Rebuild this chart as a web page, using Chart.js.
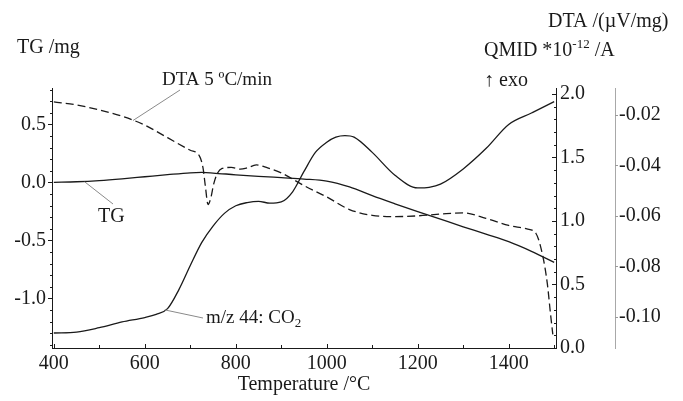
<!DOCTYPE html>
<html><head><meta charset="utf-8">
<script src="https://cdn.jsdelivr.net/npm/chart.js@4/dist/chart.umd.min.js"></script>
<style>html,body{margin:0;padding:0;background:#fff}</style>
</head><body>
<canvas id="c" width="683" height="401"></canvas>
<script>
// ---- data ----
const tgTemps  = [400,450,500,550,600,650,700,725,750,800,850,900,950,1000,1050,1100,1150,1200,1250,1300,1350,1400,1450,1500];
const tgValues = [0.000,0.005,0.015,0.030,0.048,0.066,0.082,0.085,0.080,0.065,0.052,0.040,0.028,0.010,-0.040,-0.115,-0.185,-0.253,-0.318,-0.383,-0.447,-0.512,-0.595,-0.690];

const co2Temps  = [400,450,500,550,600,625,650,675,700,725,750,775,800,825,850,875,900,925,950,975,1000,1020,1040,1060,1100,1150,1200,1225,1250,1300,1350,1400,1450,1500];
const co2Values = [0.118,0.125,0.160,0.205,0.240,0.265,0.310,0.460,0.650,0.830,0.960,1.060,1.120,1.145,1.155,1.140,1.150,1.230,1.390,1.540,1.620,1.660,1.672,1.660,1.540,1.360,1.260,1.265,1.290,1.410,1.570,1.760,1.850,1.940];

const dtaTemps  = [400,450,500,550,600,650,700,720,728,733,739,745,752,760,770,790,810,825,845,870,900,950,1000,1050,1100,1150,1200,1250,1300,1350,1400,1440,1460,1475,1485,1492,1497];
const dtaValues = [-0.0148,-0.0160,-0.0180,-0.0205,-0.0240,-0.0290,-0.0340,-0.0362,-0.0410,-0.0480,-0.0555,-0.0530,-0.0470,-0.0430,-0.0412,-0.0408,-0.0415,-0.0410,-0.0398,-0.0410,-0.0430,-0.0480,-0.0525,-0.0575,-0.0598,-0.0603,-0.0600,-0.0593,-0.0588,-0.0610,-0.0638,-0.0652,-0.0670,-0.0760,-0.0870,-0.0990,-0.1070];

const xTickLabels   = [400,600,800,1000,1200,1400];
const tgTickLabels  = [-1.0,-0.5,0.0,0.5];
const qmidTickLabels = [0.0,0.5,1.0,1.5,2.0];
const dtaTickLabels = [-0.10,-0.08,-0.06,-0.04,-0.02];

// ---- chart ----
const FONT = "'Liberation Serif', 'Times New Roman', serif";
const INK = '#1a1a1a';
const pts = (xs, ys) => xs.map((x, i) => ({x, y: ys[i]}));

const annotate = {
  id: 'annotate',
  afterDraw(chart) {
    const ctx = chart.ctx;
    const sx = chart.scales.x, sl = chart.scales.yTG, sq = chart.scales.yQMID, sd = chart.scales.yDTA;
    ctx.save();
    // tick marks
    const tick = (x1, y1, x2, y2, col) => { ctx.strokeStyle = col; ctx.lineWidth = 1; ctx.beginPath(); ctx.moveTo(x1, y1); ctx.lineTo(x2, y2); ctx.stroke(); };
    for (let v = 400; v <= 1500; v += 100) {
      const px = Math.round(sx.getPixelForValue(v)) + 0.5;
      tick(px, sx.top, px, sx.top - (v % 200 === 0 ? 4 : 3), INK);
    }
    for (let k = -14; k <= 8; k++) {
      const py = Math.round(sl.getPixelForValue(k / 10)) + 0.5;
      tick(sl.right, py, sl.right - (k % 5 === 0 ? 4 : 2), py, INK);
    }
    for (let k = 0; k <= 20; k++) {
      const py = Math.round(sq.getPixelForValue(k / 10)) + 0.5;
      tick(sq.left, py, sq.left - (k % 5 === 0 ? 4 : 2), py, INK);
    }
    for (let k = -11; k <= -1; k++) {
      const py = Math.round(sd.getPixelForValue(k / 100)) + 0.5;
      if (k % 2 === 0) tick(sd.left, py, sd.left + 3, py, '#9a9a9a');
    }
    // leader lines (anchored on curves via scales)
    const lead = (x1, y1, x2, y2) => { ctx.strokeStyle = '#8a8a8a'; ctx.lineWidth = 1; ctx.beginPath(); ctx.moveTo(x1, y1); ctx.lineTo(x2, y2); ctx.stroke(); };
    lead(180, 90, sx.getPixelForValue(574), sd.getPixelForValue(-0.0222));
    lead(113, 204, sx.getPixelForValue(468), sl.getPixelForValue(0.004));
    lead(203, 318, sx.getPixelForValue(644), sq.getPixelForValue(0.30));
    // texts
    ctx.fillStyle = INK;
    ctx.textBaseline = 'middle';
    ctx.textAlign = 'left';
    const f = (s) => `${s}px ${FONT}`;
    ctx.font = f(20);
    ctx.fillText('DTA /(\u00B5V/mg)', 548, 22);
    ctx.fillText('TG /mg', 17, 48);
    ctx.fillText('TG', 98, 217);
    // QMID with superscript
    let x = 484;
    ctx.fillText('QMID *10', x, 51); x += ctx.measureText('QMID *10').width;
    ctx.font = f(13); ctx.fillText('-12', x, 45); x += ctx.measureText('-12').width;
    ctx.font = f(20); ctx.fillText(' /A', x, 51);
    ctx.fillText('\u2191 exo', 484, 81);
    ctx.font = f(19);
    ctx.fillText('DTA 5 \u00BAC/min', 162, 80);
    // m/z 44: CO2 with subscript
    x = 206;
    ctx.fillText('m/z 44: CO', x, 318); x += ctx.measureText('m/z 44: CO').width;
    ctx.font = f(13); ctx.fillText('2', x, 324);
    ctx.restore();
  }
};

const tickFont = {family: FONT, size: 20};
new Chart(document.getElementById('c'), {
  type: 'line',
  data: {
    datasets: [
      {label: 'TG', data: pts(tgTemps, tgValues), yAxisID: 'yTG', borderColor: INK, borderWidth: 1.3, cubicInterpolationMode: 'monotone'},
      {label: 'm/z 44: CO2', data: pts(co2Temps, co2Values), yAxisID: 'yQMID', borderColor: INK, borderWidth: 1.3, cubicInterpolationMode: 'monotone'},
      {label: 'DTA 5 °C/min', data: pts(dtaTemps, dtaValues), yAxisID: 'yDTA', borderColor: INK, borderWidth: 1.3, borderDash: [8, 4], cubicInterpolationMode: 'monotone'}
    ]
  },
  options: {
    responsive: false, animation: false, devicePixelRatio: 1,
    layout: {padding: {top: 88, left: 0, right: 0, bottom: 0}},
    plugins: {legend: {display: false}, tooltip: {enabled: false}},
    elements: {point: {radius: 0}},
    scales: {
      x: {
        type: 'linear', position: 'bottom', min: 396, max: 1504,
        grid: {display: false, drawTicks: false},
        border: {display: true, color: INK, width: 1},
        afterBuildTicks: s => { s.ticks = xTickLabels.map(v => ({value: v})); },
        afterFit: s => { s.height = 53; },
        ticks: {font: tickFont, color: INK, padding: 4, maxRotation: 0, callback: v => String(v)},
        title: {display: true, text: 'Temperature /°C', font: {family: FONT, size: 20}, color: INK, padding: {top: 0, bottom: 4}}
      },
      yTG: {
        type: 'linear', position: 'left', min: -1.428, max: 0.813,
        grid: {display: false, drawTicks: false},
        border: {display: true, color: INK, width: 1},
        afterBuildTicks: s => { s.ticks = tgTickLabels.map(v => ({value: v})); },
        afterFit: s => { s.width = 52; },
        ticks: {font: tickFont, color: INK, padding: 6, callback: v => v.toFixed(1)}
      },
      yQMID: {
        type: 'linear', position: 'right', weight: 0, min: 0, max: 2.047,
        grid: {display: false, drawTicks: false},
        border: {display: true, color: INK, width: 1},
        afterBuildTicks: s => { s.ticks = qmidTickLabels.map(v => ({value: v})); },
        afterFit: s => { s.width = 59; },
        ticks: {font: tickFont, color: INK, padding: 4, callback: v => v.toFixed(1)}
      },
      yDTA: {
        type: 'linear', position: 'right', weight: 1, min: -0.1124, max: -0.0093,
        grid: {display: false, drawTicks: false},
        border: {display: true, color: '#a8a8a8', width: 1},
        afterBuildTicks: s => { s.ticks = dtaTickLabels.map(v => ({value: v})); },
        afterFit: s => { s.width = 68; },
        ticks: {font: tickFont, color: INK, padding: 4, callback: v => v.toFixed(2)}
      }
    }
  },
  plugins: [annotate]
});
</script>
</body></html>
